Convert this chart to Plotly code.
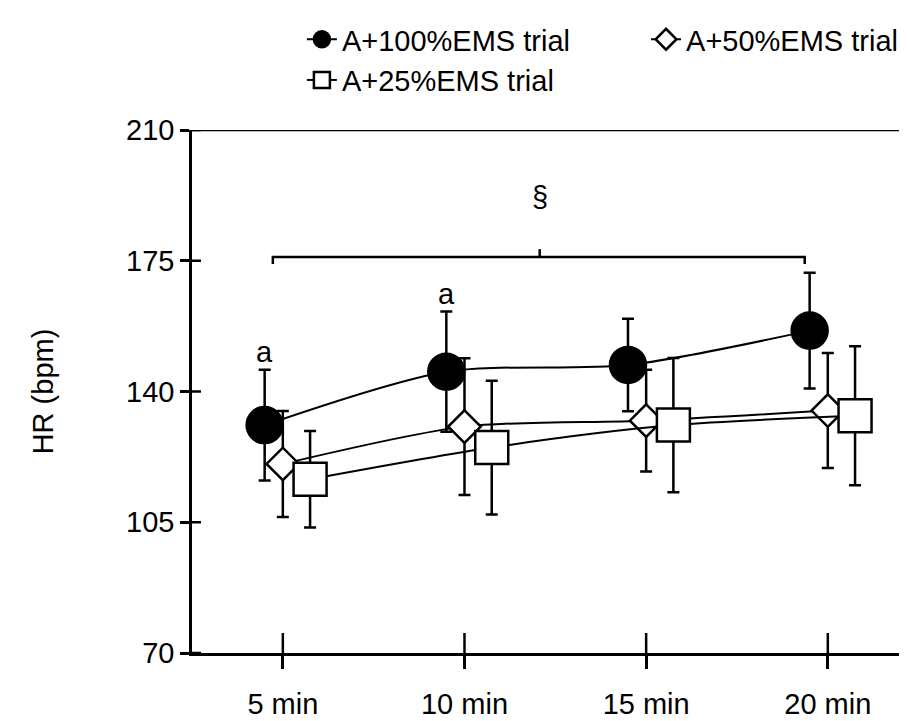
import numpy as np
import plotly.graph_objects as go

# ---- data ----
time_labels = ["5 min", "10 min", "15 min", "20 min"]
hr_100 = [131.0, 145.3, 147.1, 156.3]
sd_100 = [14.8, 16.1, 12.4, 15.5]
hr_50 = [120.6, 130.6, 132.2, 134.9]
sd_50 = [14.2, 18.3, 13.6, 15.4]
hr_25 = [116.5, 125.0, 131.0, 133.5]
sd_25 = [12.9, 17.9, 18.0, 18.6]
y_ticks = [70, 105, 140, 175, 210]

FONT = "Liberation Sans, Arial, sans-serif"
FS = 29
base = np.arange(1, len(time_labels) + 1)

fig = go.Figure()

def add_series(name, y, sd, dx, symbol, size, fill, legend):
    fig.add_trace(go.Scatter(
        x=base + dx, y=y, name=name, mode="lines+markers", legend=legend,
        line=dict(color="black", width=2, shape="spline", smoothing=0.8),
        marker=dict(symbol=symbol, size=size, color=fill,
                    line=dict(color="black", width=2.5)),
        error_y=dict(type="data", array=sd, visible=True, color="black",
                     thickness=2.5, width=6),
    ))

add_series("A+100%EMS trial", hr_100, sd_100, -0.10, "circle", 36, "black", "legend")
add_series("A+50%EMS trial", hr_50, sd_50, 0.0, "diamond", 25, "white", "legend2")
add_series("A+25%EMS trial", hr_25, sd_25, 0.15, "square", 33, "white", "legend")

shapes = []
# top border line at 210
shapes.append(dict(type="line", xref="paper", yref="y", x0=0, x1=1, y0=210, y1=210,
                   line=dict(color="black", width=2.5)))
# inner halves of crossing ticks
for v in y_ticks:
    shapes.append(dict(type="line", xref="paper", yref="y", xsizemode="pixel", xanchor=0,
                       x0=0, x1=9, y0=v, y1=v, line=dict(color="black", width=2.5)))
for v in base:
    shapes.append(dict(type="line", xref="x", yref="paper", ysizemode="pixel", yanchor=0,
                       x0=v, x1=v, y0=0, y1=20, line=dict(color="black", width=2.5)))
# significance bracket
bx0, bx1, bxm, by = 0.945, 3.873, 2.414, 176.0
shapes.append(dict(type="path",
                   path=f"M {bx0},{by-1.9} L {bx0},{by} L {bx1},{by} L {bx1},{by-1.9}",
                   xref="x", yref="y", line=dict(color="black", width=2.5)))
shapes.append(dict(type="line", xref="x", yref="y", x0=bxm, x1=bxm, y0=by, y1=by + 2.1,
                   line=dict(color="black", width=2.5)))

annotations = [
    dict(x=base[0] - 0.10, y=hr_100[0] + sd_100[0], text="a", showarrow=False,
         xref="x", yref="y", yanchor="bottom", yshift=0, font=dict(size=FS, color="black")),
    dict(x=base[1] - 0.10, y=hr_100[1] + sd_100[1], text="a", showarrow=False,
         xref="x", yref="y", yanchor="bottom", yshift=0, font=dict(size=FS, color="black")),
    dict(x=bxm, y=192, text="§", showarrow=False, xref="x", yref="y",
         font=dict(size=FS, color="black")),
]

leg_common = dict(orientation="v", yanchor="top", xanchor="left", font=dict(size=FS),
                  bgcolor="rgba(0,0,0,0)", tracegroupgap=0, y=1.222)

fig.update_layout(
    width=907, height=721,
    margin=dict(l=184, r=0, t=122, b=76, autoexpand=False),
    paper_bgcolor="white", plot_bgcolor="white",
    font=dict(family=FONT, size=FS, color="black"),
    showlegend=True,
    legend=dict(x=0.152, **leg_common),
    legend2=dict(x=0.628, **leg_common),
    xaxis=dict(range=[0.5, 4.48], tickvals=list(base), ticktext=time_labels,
               ticks="outside", ticklen=13, tickwidth=2.5, tickcolor="black",
               showline=True, linewidth=2.5, linecolor="black",
               showgrid=False, zeroline=False, tickfont=dict(size=FS),
               ticklabelstandoff=10),
    yaxis=dict(range=[70, 210], tickvals=y_ticks, ticks="outside", ticklen=9,
               tickwidth=2.5, tickcolor="black", showline=True, linewidth=2.5,
               linecolor="black", showgrid=False, zeroline=False,
               tickfont=dict(size=FS),
               title=dict(text="HR (bpm)", font=dict(size=FS), standoff=64)),
    shapes=shapes, annotations=annotations,
)

fig.write_html("out.html")
